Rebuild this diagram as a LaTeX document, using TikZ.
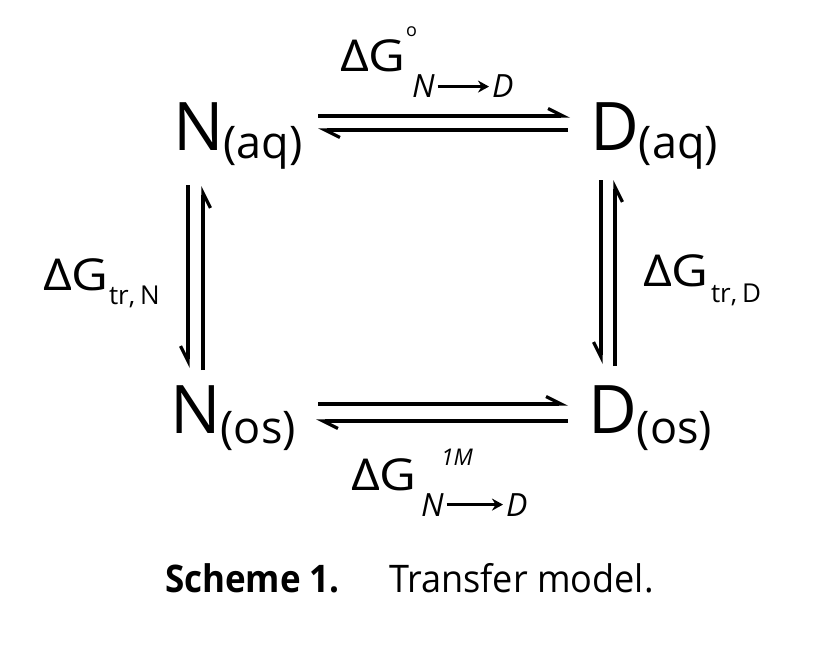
\documentclass[tikz,border=0pt]{standalone}
\usepackage{fontspec}
\setmainfont{Open Sans}
\newfontfamily\capfont{Open Sans}[FakeStretch=0.92]
\newfontfamily\capfontreg{Open Sans}[FakeStretch=0.95]
\newfontfamily\widefont{Open Sans}[FakeStretch=1.15]
\usetikzlibrary{arrows.meta}
\newcommand{\fsz}[1]{\fontsize{#1}{#1}\selectfont}
\begin{document}
\begin{tikzpicture}[x=1pt,y=-1pt,
  txt/.style={inner sep=0pt, outer sep=0pt, anchor=base west},
  species/.style={txt, font=\fsz{67}},
  dg/.style={txt, font=\widefont\fsz{44}},
  subit/.style={txt, font=\fsz{32}\itshape},
  sidesub/.style={txt, font=\fsz{26}},
  harpl/.style={line width=3.3pt, -{Straight Barb[left,length=15pt,width=15pt]}},
  harpr/.style={line width=3.3pt, -{Straight Barb[right,length=15pt,width=15pt]}},
  subarrow/.style={line width=2.8pt, -{Stealth[length=11pt,width=12pt]}, shorten <=3pt, shorten >=3pt}]
\useasboundingbox[fill=white] (0,0) rectangle (816,650);

% species
\node[species] (Naq) at (173,150) {N\raisebox{-8pt}{\fsz{45}(aq)}};
\node[species] (Daq) at (590,150) {D\raisebox{-8pt}{\fsz{45}(aq)}};
\node[species] (Nos) at (170,433) {N\raisebox{-10pt}{\fsz{45}(os)}};
\node[species] (Dos) at (588,433) {D\raisebox{-10pt}{\fsz{45}(os)}};

% connector end points
\coordinate (ta) at (318,116); \coordinate (tb) at (570,116);
\coordinate (tc) at (568,130); \coordinate (td) at (318,130);
\coordinate (ba) at (318,404); \coordinate (bb) at (568,404);
\coordinate (bc) at (568,421); \coordinate (bd) at (316,421);
\coordinate (la) at (188,185); \coordinate (lb) at (188,368);
\coordinate (lc) at (203,370); \coordinate (ld) at (203,186);
\coordinate (ra) at (601,180); \coordinate (rb) at (601,364);
\coordinate (rc) at (615,366); \coordinate (rd) at (615,180);

\draw[harpl] (ta) -- (tb);
\draw[harpl] (tc) -- (td);
\draw[harpl] (ba) -- (bb);
\draw[harpl] (bc) -- (bd);
\draw[harpr] (la) -- (lb);
\draw[harpr] (lc) -- (ld);
\draw[harpr] (ra) -- (rb);
\draw[harpr] (rc) -- (rd);

% top label
\node[dg] (tG) at (340,72) {ΔG};
\node[txt, font=\fsz{18}] (tsup) at (406,37) {o};
\node[subit] (tN) at (412,98) {N};
\node[subit] (tD) at (492,98) {D};
\draw[subarrow] (tN.east) -- (tD.west);

% bottom label
\node[dg] (bG) at (351,490) {ΔG};
\node[txt, font=\fsz{23}\itshape] (bsup) at (441,465) {1M};
\node[subit] (bN) at (421,516) {N};
\node[subit] (bD) at (506,516) {D};
\draw[subarrow] (bN.east) -- (bD.west);

% side labels
\node[dg] (lG) at (43,290) {ΔG};
\node[sidesub] (lsub) at (109,304) {tr,\hspace{5pt}N};
\node[dg] (rG) at (643,286) {ΔG};
\node[sidesub] (rsub) at (711,302) {tr,\hspace{5pt}D};

% caption
\node[txt, font=\capfont\fsz{38}\bfseries] (cap1) at (165,592) {Scheme 1.};
\node[txt, font=\capfontreg\fsz{38}] (cap2) at (389,592) {Transfer model.};
\end{tikzpicture}
\end{document}
